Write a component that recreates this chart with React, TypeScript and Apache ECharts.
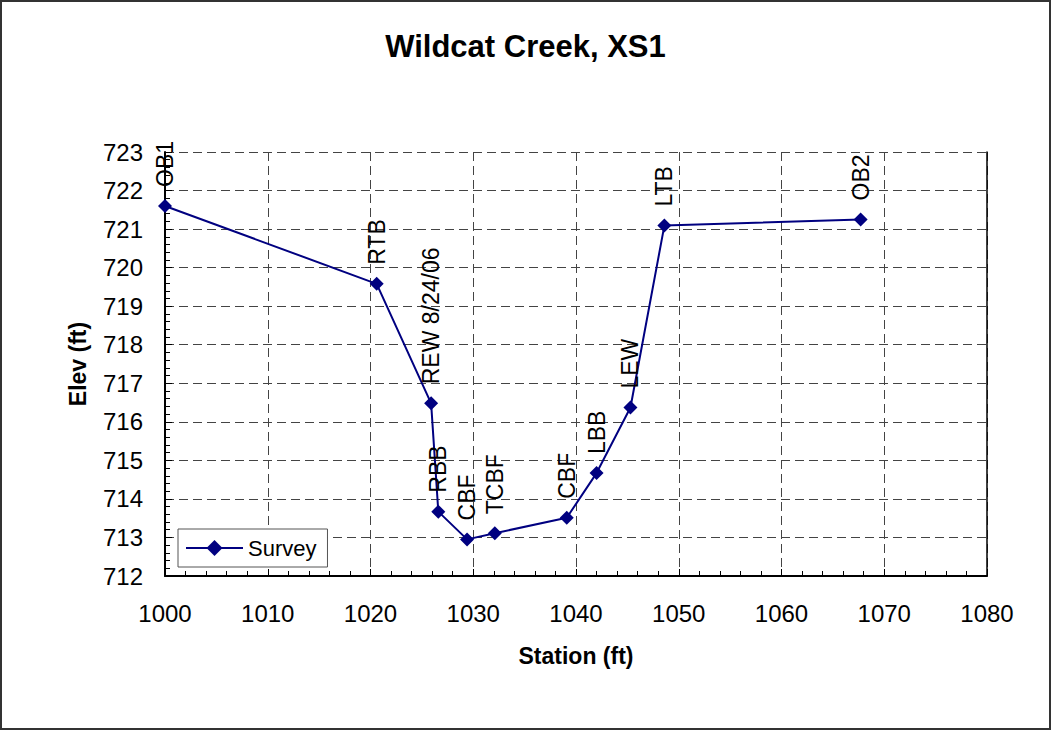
import React, { useEffect, useRef } from "react";
import * as echarts from "echarts";

const stations = [1000, 1020.6, 1025.9, 1026.6, 1029.4, 1032.1, 1039.1, 1042.0, 1045.3, 1048.6, 1067.7];
const elevations = [721.6, 719.58, 716.48, 713.67, 712.95, 713.11, 713.51, 714.67, 716.37, 721.09, 721.25];
const pointLabels = ["OB1", "RTB", "REW 8/24/06", "RBB", "CBF", "TCBF", "CBF", "LBB", "LEW", "LTB", "OB2"];

const FONT = "'Liberation Sans', Arial, sans-serif";

export default function App() {
  const ref = useRef<HTMLDivElement>(null);
  useEffect(() => {
    document.body.style.margin = "0";
    const chart = echarts.init(ref.current!, undefined, { renderer: "svg" });
    const data = stations.map((s, i) => ({ value: [s, elevations[i]], name: pointLabels[i] }));
    chart.setOption({
      animation: false,
      backgroundColor: "#ffffff",
      textStyle: { fontFamily: FONT },
      title: {
        text: "Wildcat Creek, XS1",
        left: "center",
        top: 26,
        textStyle: { fontFamily: FONT, fontSize: 31, fontWeight: "bold", color: "#000" },
      },
      graphic: [
        {
          type: "rect",
          shape: { x: 1, y: 1, width: 1049, height: 728 },
          style: { fill: "none", stroke: "#333", lineWidth: 2 },
          silent: true,
        },
      ],
      legend: {
        left: 178,
        top: 529,
        orient: "horizontal",
        padding: [8, 11, 8, 7],
        borderColor: "#555",
        borderWidth: 1,
        backgroundColor: "#fff",
        itemWidth: 57,
        itemHeight: 20,
        textStyle: { fontFamily: FONT, fontSize: 22, color: "#000" },
        data: ["Survey"],
      },
      grid: { left: 165, right: 64, top: 152, bottom: 154 },
      xAxis: {
        type: "value",
        min: 1000,
        max: 1080,
        interval: 10,
        name: "Station (ft)",
        nameLocation: "middle",
        nameGap: 68,
        nameTextStyle: { fontFamily: FONT, fontSize: 23, fontWeight: "bold", color: "#000" },
        axisLine: { show: true, onZero: false, lineStyle: { color: "#000", width: 2 } },
        axisTick: { show: true, inside: true, length: 7, lineStyle: { color: "#000", width: 1 } },
        minorTick: { show: true, splitNumber: 5, length: 5, lineStyle: { color: "#000", width: 1 } },
        axisLabel: {
          margin: 25,
          fontFamily: FONT,
          fontSize: 24,
          color: "#000",
          formatter: (v: number) => String(v),
        },
        splitLine: { show: true, lineStyle: { color: "#444", width: 1, type: [9, 5] } },
      },
      yAxis: [
        {
          type: "value",
          min: 712,
          max: 723,
          interval: 1,
          name: "Elev (ft)",
          nameLocation: "middle",
          nameGap: 76,
          nameRotate: 90,
          nameTextStyle: { fontFamily: FONT, fontSize: 23, fontWeight: "bold", color: "#000" },
          axisLine: { show: true, onZero: false, lineStyle: { color: "#000", width: 2 } },
          axisTick: { show: true, inside: true, length: 7, lineStyle: { color: "#000", width: 1 } },
          minorTick: { show: true, splitNumber: 5, length: 5, lineStyle: { color: "#000", width: 1 } },
          axisLabel: {
            margin: 22,
            fontFamily: FONT,
            fontSize: 24,
            color: "#000",
            formatter: (v: number) => String(v),
          },
          splitLine: { show: true, lineStyle: { color: "#444", width: 1, type: [9, 5] } },
        },
        {
          type: "value",
          min: 712,
          max: 723,
          interval: 1,
          position: "right",
          axisLine: { show: true, onZero: false, lineStyle: { color: "#000", width: 1.5 } },
          axisTick: { show: false },
          axisLabel: { show: false },
          splitLine: { show: false },
        },
      ],
      series: [
        {
          name: "Survey",
          type: "line",
          data,
          symbol: "diamond",
          symbolSize: 14,
          itemStyle: { color: "#000080" },
          lineStyle: { color: "#000080", width: 2 },
          label: {
            show: true,
            position: "top",
            distance: 12,
            rotate: 90,
            align: "left",
            verticalAlign: "middle",
            formatter: (p: any) => p.name,
            fontFamily: FONT,
            fontSize: 23,
            color: "#000",
          },
        },
      ],
    });
    return () => chart.dispose();
  }, []);
  return <div ref={ref} style={{ position: "absolute", left: 0, top: 0, width: 1051, height: 730 }} />;
}
